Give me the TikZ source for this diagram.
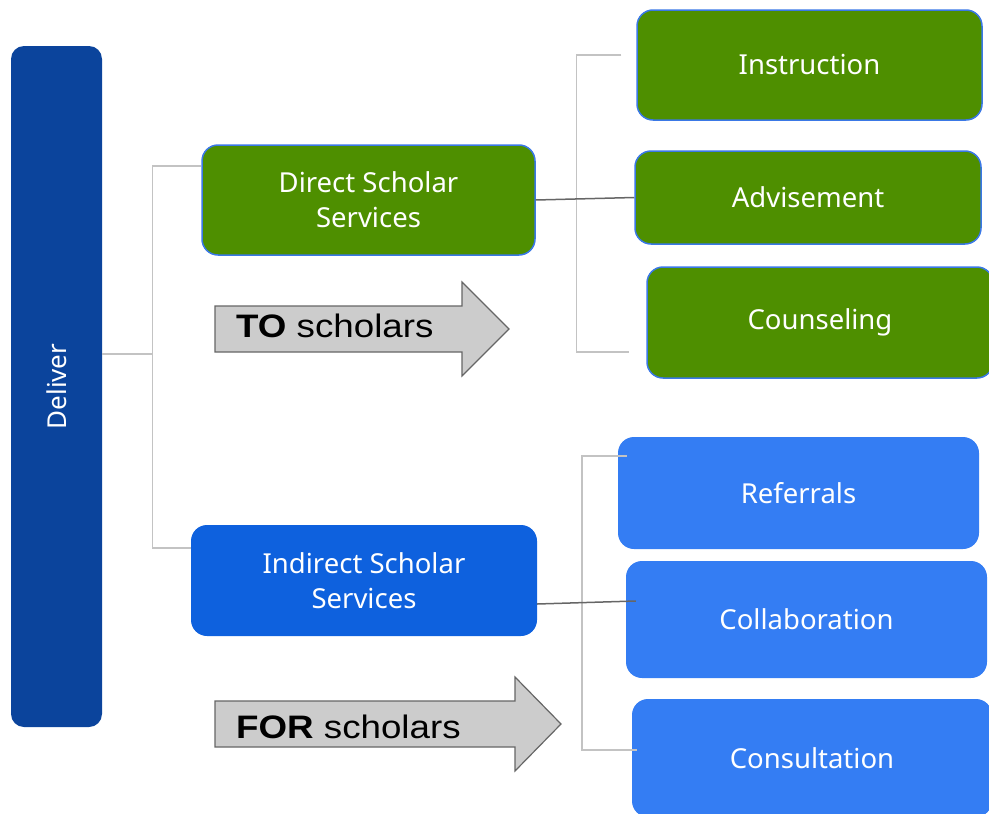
\documentclass[tikz,border=0pt]{standalone}
\usepackage{fontspec}
\setmainfont{Noto Sans}
\newfontfamily\arrowfont[FakeStretch=1.13]{Liberation Sans}
\usepackage{tikz}
\usetikzlibrary{positioning,calc}

\definecolor{deliverblue}{HTML}{0B449C}
\definecolor{scholargreen}{HTML}{4E8F00}
\definecolor{edgeblue}{HTML}{3A78E6}
\definecolor{indirectblue}{HTML}{0E61DE}
\definecolor{serviceblue}{HTML}{347DF3}
\definecolor{bracketgray}{HTML}{C3C3C3}
\definecolor{linkgray}{HTML}{666666}
\definecolor{arrowfill}{HTML}{CCCCCC}

\begin{document}
\begin{tikzpicture}[x=1pt, y=-1pt,
    box/.style={rectangle, rounded corners=16pt, text=white, align=center, inner sep=0pt, font=\fontsize{27.5}{35}\selectfont},
    greenbox/.style={box, fill=scholargreen, draw=edgeblue, line width=1.5pt},
    bluebox/.style={box, fill=serviceblue},
    bracket/.style={draw=bracketgray, line width=1.5pt},
    link/.style={draw=linkgray, line width=1.5pt},
    flow/.style={fill=arrowfill, draw=linkgray, line width=1.2pt},
    flowtext/.style={anchor=base west, inner sep=0pt, font=\arrowfont\fontsize{32.5}{33}\selectfont}]
  \useasboundingbox (0,0) rectangle (989,814);

  % the two arrows
  \draw[flow] (215,306) -- (462,306) -- (462,282) -- (509,329) -- (462,376) -- (462,352) -- (215,352) -- cycle;
  \node[flowtext] (to) at (236,337) {\textbf{TO} scholars};
  \draw[flow] (215,701) -- (515,701) -- (515,677) -- (561,724) -- (515,771) -- (515,747) -- (215,747) -- cycle;
  \node[flowtext] (for) at (236,738) {\textbf{FOR} scholars};

  % nodes
  \node[box, fill=deliverblue, rounded corners=13pt, rotate=90, minimum width=681pt, minimum height=91pt, font=\fontsize{26}{30}\selectfont] (deliver) at (56.5,386.5) {Deliver};
  \node[greenbox, minimum width=333pt, minimum height=110pt] (direct) at (368.5,200) {Direct Scholar\\Services};
  \node[box, fill=indirectblue, minimum width=346pt, minimum height=111pt] (indirect) at (364,580.5) {Indirect Scholar\\Services};

  \node[greenbox, minimum width=345pt, minimum height=110pt] (instruction) at (809.5,65) {Instruction};
  \node[greenbox, minimum width=346pt, minimum height=93pt] (advisement) at (808,197.5) {Advisement};
  \node[greenbox, minimum width=346pt, minimum height=111pt] (counseling) at (820,322.5) {Counseling};

  \node[bluebox, minimum width=361pt, minimum height=112pt] (referrals) at (798.5,493) {Referrals};
  \node[bluebox, minimum width=361pt, minimum height=117pt] (collaboration) at (806.5,619.5) {Collaboration};
  \node[bluebox, minimum width=360pt, minimum height=118pt] (consultation) at (812,758) {Consultation};

  % connectors
  \coordinate (trunk) at (153,354);
  \draw[bracket] (deliver.south |- trunk) -- (trunk);
  \draw[bracket] ([yshift=34pt]direct.west) -- ++(-49,0) |- ([yshift=32.5pt]indirect.west);
  \draw[bracket] ([xshift=-15pt,yshift=10pt]instruction.west) -- ++(-45,0) |- ([xshift=-17pt,yshift=-29.5pt]counseling.west);
  \draw[bracket] ([xshift=9pt,yshift=37pt]referrals.west) -- ++(-45,0) |- ([xshift=5pt,yshift=8pt]consultation.west);
  \draw[link] (direct.east) -- (advisement.west);
  \draw[link] ([yshift=-23.5pt]indirect.east) -- ([xshift=10pt,yshift=18.5pt]collaboration.west);
\end{tikzpicture}
\end{document}
